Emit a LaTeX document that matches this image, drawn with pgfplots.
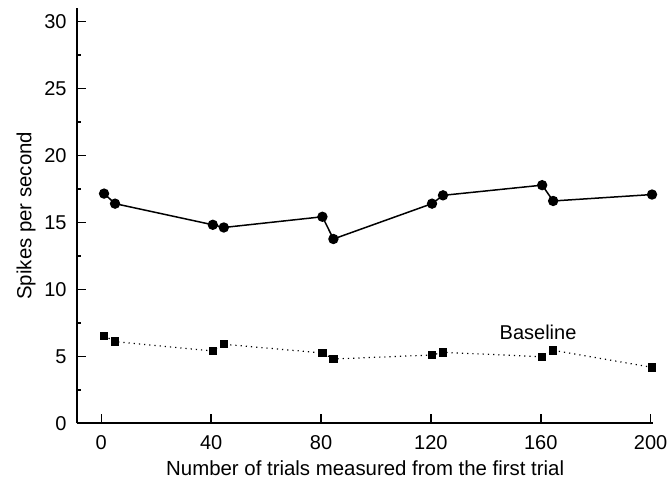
\documentclass[border=0pt]{standalone}
\usepackage{fontspec}
\setmainfont{Liberation Sans}
\usepackage{pgfplots}
\pgfplotsset{compat=1.18}
\begin{document}
\begin{tikzpicture}
\path[use as bounding box] (-38.5pt,-28.35pt) rectangle (295.5pt,211.65pt);
\begin{axis}[
  at={(0pt,0pt)}, anchor=south west,
  scale only axis,
  width=288.2pt, height=207.6pt,
  xmin=-8.85, xmax=201, ymin=0, ymax=31,
  axis x line*=bottom, axis y line*=left,
  axis line style={line width=1pt, -},
  xtick={0,40,80,120,160,200},
  ytick={0,5,10,15,20,25,30},
  minor ytick={2.5,7.5,12.5,17.5,22.5,27.5},
  tick align=inside,
  major tick length=4.5pt,
  minor tick length=2pt,
  tick style={line width=0.8pt, black},
  /pgf/number format/assume math mode=true,
  font=\fontsize{10}{12}\selectfont,
  ticklabel style={font=\fontsize{10}{12}\selectfont},
  yticklabel style={inner sep=0pt, anchor=east, xshift=-5pt},
  xticklabel style={inner sep=0pt, anchor=north, yshift=-5.7pt},
  xlabel={Number of trials measured from the first trial},
  ylabel={Spikes per second},
  xlabel style={at={(axis description cs:0.5,-0.1269)}, anchor=base, font=\fontsize{10.2}{12}\selectfont},
  ylabel style={at={(axis description cs:-0.0790,0.5)}, anchor=base, font=\fontsize{10.2}{12}\selectfont},
  clip=false,
]
\addplot[black, line width=0.75pt, mark=*, mark size=2.2pt, mark options={solid, fill=black}]
  coordinates {(1,17.15) (5,16.4) (40.6,14.82) (44.6,14.62) (80.5,15.42) (84.5,13.76)
               (120.4,16.4) (124.4,17.02) (160.5,17.78) (164.5,16.6) (200.5,17.08)};
\addplot[black, line width=0.6pt, dotted, mark=square*, mark size=1.8pt, mark options={solid, fill=black}]
  coordinates {(1,6.54) (5,6.1) (40.6,5.4) (44.6,5.9) (80.5,5.25) (84.5,4.8)
               (120.4,5.1) (124.4,5.3) (160.5,4.97) (164.5,5.45) (200.5,4.18)};
\node[anchor=base, inner sep=0pt, font=\fontsize{10}{12}\selectfont] at (axis cs:159,6.27) {Baseline};
\end{axis}
\end{tikzpicture}
\end{document}
